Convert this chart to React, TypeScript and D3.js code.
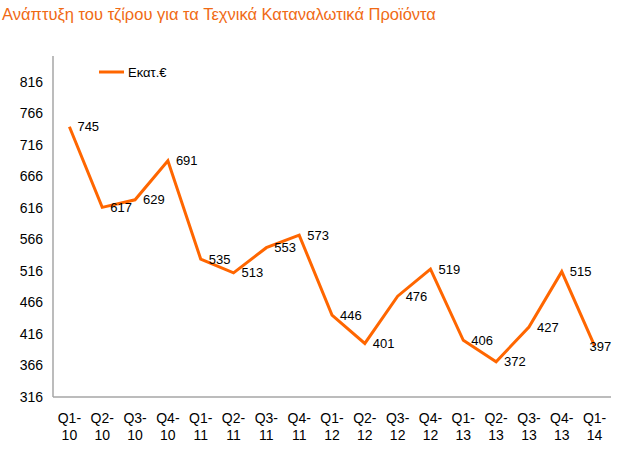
import React, { useRef, useEffect } from "react";
import * as d3 from "d3";

const width = 620;
const height = 449;

// data
const quarters = ["Q1-10", "Q2-10", "Q3-10", "Q4-10", "Q1-11", "Q2-11", "Q3-11", "Q4-11", "Q1-12", "Q2-12", "Q3-12", "Q4-12", "Q1-13", "Q2-13", "Q3-13", "Q4-13", "Q1-14"];
const turnover = [745, 617, 629, 691, 535, 513, 553, 573, 446, 401, 476, 519, 406, 372, 427, 515, 397];
const yTicks = [316, 366, 416, 466, 516, 566, 616, 666, 716, 766, 816];
const seriesName = "Εκατ.€";
const title = "Ανάπτυξη του τζίρου για τα Τεχνικά Καταναλωτικά Προϊόντα";

const font = "'Liberation Sans', Arial, sans-serif";
const lineColor = "#ff6600";
const axisColor = "#a6a6a6";

export default function App() {
  const svgRef = useRef<SVGSVGElement>(null);

  useEffect(() => {
    if (!svgRef.current) return;
    const svg = d3.select(svgRef.current);
    svg.selectAll("*").remove();

    const left = 53, right = 611, bottom = 397, top = 56;

    const x = d3.scaleBand().domain(quarters).range([left, right]).padding(0);
    const y = d3.scaleLinear().domain([316, 816]).range([bottom, 82]);
    const cx = (q: string) => (x(q) ?? 0) + x.bandwidth() / 2;

    // title
    svg.append("text")
      .attr("x", 2)
      .attr("y", 20)
      .attr("fill", "#f06a14")
      .style("font-family", font)
      .style("font-size", "16.5px")
      .text(title);

    // axes lines
    svg.append("line")
      .attr("x1", left).attr("x2", left)
      .attr("y1", top).attr("y2", bottom)
      .attr("stroke", axisColor).attr("stroke-width", 1.5);
    svg.append("line")
      .attr("x1", left).attr("x2", right)
      .attr("y1", bottom).attr("y2", bottom)
      .attr("stroke", axisColor).attr("stroke-width", 1.5);

    // y tick labels
    svg.append("g")
      .selectAll("text")
      .data(yTicks)
      .join("text")
      .attr("x", 43)
      .attr("y", d => y(d))
      .attr("dy", "0.35em")
      .attr("text-anchor", "end")
      .style("font-family", font)
      .style("font-size", "14px")
      .text(d => d);

    // x tick labels (two lines)
    const xl = svg.append("g")
      .selectAll("text")
      .data(quarters)
      .join("text")
      .attr("text-anchor", "middle")
      .style("font-family", font)
      .style("font-size", "14px");
    xl.append("tspan")
      .attr("x", d => cx(d))
      .attr("y", 423)
      .text(d => d.split("-")[0] + "-");
    xl.append("tspan")
      .attr("x", d => cx(d))
      .attr("y", 440)
      .text(d => d.split("-")[1]);

    // line
    const line = d3.line<number>()
      .x((_, i) => cx(quarters[i]))
      .y(d => y(d));
    svg.append("path")
      .datum(turnover)
      .attr("d", line)
      .attr("fill", "none")
      .attr("stroke", lineColor)
      .attr("stroke-width", 3);

    // data labels (right of point, pulled back if it would leave the plot)
    svg.append("g")
      .selectAll("text")
      .data(turnover)
      .join("text")
      .attr("y", d => y(d))
      .attr("dy", "0.35em")
      .style("font-family", font)
      .style("font-size", "13px")
      .text(d => d)
      .each(function (_, i) {
        const t = this as SVGTextElement;
        const px = cx(quarters[i]);
        const len = t.getComputedTextLength();
        t.setAttribute("x", String(px + 8 + len > right ? px - 5 : px + 8));
      });

    // legend
    svg.append("line")
      .attr("x1", 99).attr("x2", 124)
      .attr("y1", 72).attr("y2", 72)
      .attr("stroke", lineColor).attr("stroke-width", 3);
    svg.append("text")
      .attr("x", 128)
      .attr("y", 72)
      .attr("dy", "0.35em")
      .style("font-family", font)
      .style("font-size", "13px")
      .text(seriesName);
  }, []);

  return (
    <svg
      ref={svgRef}
      width={width}
      height={height}
      style={{ position: "absolute", left: 0, top: 0, background: "#fff" }}
    />
  );
}
